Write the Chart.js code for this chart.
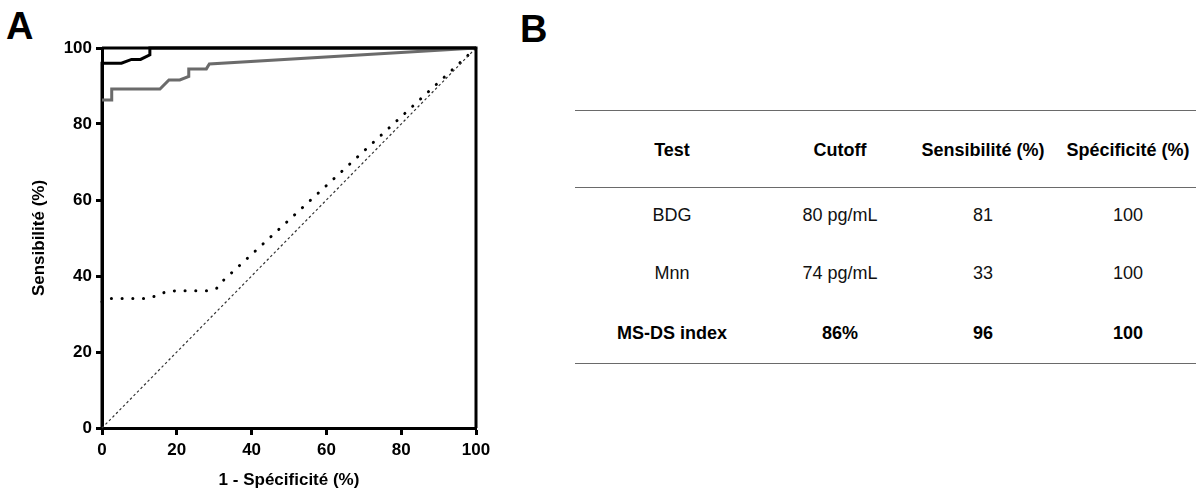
<!DOCTYPE html>
<html>
<head>
<meta charset="utf-8">
<script src="https://cdn.jsdelivr.net/npm/chart.js@4.4.1/dist/chart.umd.min.js"></script>
<style>
  body { margin: 0; background: #fff; width: 1196px; height: 490px; position: relative; overflow: hidden;
         font-family: "Liberation Sans", Arial, sans-serif; }
  #wrapA { position: absolute; left: 0; top: 0; width: 500px; height: 490px; }
  .panel { position: absolute; font-weight: bold; font-size: 38px; color: #000; line-height: 1; }
  .rule { position: absolute; left: 575px; width: 621px; height: 0; border-top: 1.5px solid #6a6a6a; }
  .cell { position: absolute; width: 200px; height: 24px; line-height: 24px; text-align: center;
          font-size: 18px; color: #111; }
  .cell.b { font-weight: bold; color: #000; }
</style>
</head>
<body>
<div class="panel" style="left:6px; top:7px;">A</div>
<div class="panel" style="left:520px; top:10px;">B</div>
<div id="wrapA"><canvas id="roc"></canvas></div>
<div id="tableB"></div>

<script>
// ROC curves (x = 1 - specificity %, y = sensitivity %)
const msdsX = [0, 0, 5.2, 7.9, 10.3, 12.8, 12.8, 100];
const msdsY = [0, 96, 96, 97.0, 97.0, 98.2, 100, 100];

const bdgX = [0, 2.6, 2.6, 15.5, 17.9, 20.8, 23.2, 23.2, 27.9, 28.7, 100];
const bdgY = [86.3, 86.3, 89.2, 89.2, 91.6, 91.6, 92.5, 94.5, 94.5, 95.8, 100];

const mnnX = [0, 1, 12, 14.6, 17.2, 19.9, 28.4, 30.7, 32.4, 100];
const mnnY = [33.2, 34.1, 34.1, 34.8, 35.9, 36.1, 36.1, 36.8, 38.8, 100];

const refX = [0, 100];
const refY = [0, 100];

const xTicks = [0, 20, 40, 60, 80, 100];
const yTicks = [0, 20, 40, 60, 80, 100];

// table B
const tableHead = ['Test', 'Cutoff', 'Sensibilité (%)', 'Spécificité (%)'];
const tableRows = [
  ['BDG', '80 pg/mL', '81', '100'],
  ['Mnn', '74 pg/mL', '33', '100'],
  ['MS-DS index', '86%', '96', '100']
];
const boldRows = [false, false, true];

function pts(xs, ys) {
  return xs.map((x, i) => ({ x: x, y: ys[i] }));
}

// build table
(function buildTable() {
  const host = document.getElementById('tableB');
  const colCenters = [672, 840, 983, 1128];
  const rowCenters = [150, 215, 273, 333];
  [110, 187, 363].forEach(y => {
    const r = document.createElement('div');
    r.className = 'rule';
    r.style.top = y + 'px';
    host.appendChild(r);
  });
  function addCell(txt, cx, cy, bold) {
    const d = document.createElement('div');
    d.className = 'cell' + (bold ? ' b' : '');
    d.style.left = (cx - 100) + 'px';
    d.style.top = (cy - 12) + 'px';
    d.textContent = txt;
    host.appendChild(d);
  }
  tableHead.forEach((t, i) => addCell(t, colCenters[i], rowCenters[0], true));
  tableRows.forEach((row, r) => {
    row.forEach((t, i) => addCell(t, colCenters[i], rowCenters[r + 1], boldRows[r]));
  });
})();

// top + right frame lines
const framePlugin = {
  id: 'frame',
  afterDraw(chart) {
    const a = chart.chartArea;
    const ctx = chart.ctx;
    ctx.save();
    ctx.strokeStyle = '#000';
    ctx.lineWidth = 3;
    ctx.beginPath();
    ctx.moveTo(a.left, a.top);
    ctx.lineTo(a.right, a.top);
    ctx.lineTo(a.right, a.bottom);
    ctx.stroke();
    ctx.restore();
  }
};

const tickFont = { family: '"Liberation Sans", Arial, sans-serif', size: 17, weight: 'bold' };

new Chart(document.getElementById('roc'), {
  type: 'scatter',
  data: {
    datasets: [
      { label: 'ref', data: pts(refX, refY), showLine: true, borderColor: '#333', borderWidth: 1.2,
        borderDash: [2.5, 2.5], pointRadius: 0, clip: 4 },
      { label: 'Mnn', data: pts(mnnX, mnnY), showLine: true, borderColor: '#000', borderWidth: 3,
        borderDash: [0.1, 10.6], borderCapStyle: 'round', pointRadius: 0, clip: 4 },
      { label: 'BDG', data: pts(bdgX, bdgY), showLine: true, borderColor: '#6b6b6b', borderWidth: 3,
        pointRadius: 0, clip: 4 },
      { label: 'MS-DS index', data: pts(msdsX, msdsY), showLine: true, borderColor: '#000', borderWidth: 3,
        pointRadius: 0, clip: 4 }
    ]
  },
  options: {
    responsive: true,
    maintainAspectRatio: false,
    animation: false,
    layout: { padding: { top: 48, right: 24, left: 0, bottom: 0 } },
    plugins: { legend: { display: false }, tooltip: { enabled: false } },
    scales: {
      x: {
        type: 'linear', min: 0, max: 100,
        afterFit: s => { s.height = 62; },
        afterBuildTicks: s => { s.ticks = xTicks.map(v => ({ value: v })); },
        grid: { display: true, drawOnChartArea: false, drawTicks: true, tickLength: 7, tickWidth: 3, color: '#000' },
        border: { display: true, color: '#000', width: 3 },
        ticks: { color: '#000', font: tickFont, padding: 5, maxRotation: 0 },
        title: { display: true, text: '1 - Spécificité (%)', color: '#000',
                 font: { family: tickFont.family, size: 17, weight: 'bold', lineHeight: 1 },
                 padding: { top: 0, bottom: 1 } }
      },
      y: {
        type: 'linear', min: 0, max: 100,
        afterFit: s => { s.width = 102; },
        afterBuildTicks: s => { s.ticks = yTicks.map(v => ({ value: v })); },
        grid: { display: true, drawOnChartArea: false, drawTicks: true, tickLength: 6, tickWidth: 3, color: '#000' },
        border: { display: true, color: '#000', width: 3 },
        ticks: { color: '#000', font: tickFont, padding: 4 },
        title: { display: true, text: 'Sensibilité (%)', color: '#000',
                 font: { family: tickFont.family, size: 17, weight: 'bold' },
                 padding: { top: 29, bottom: 0 } }
      }
    }
  },
  plugins: [framePlugin]
});
</script>
</body>
</html>
